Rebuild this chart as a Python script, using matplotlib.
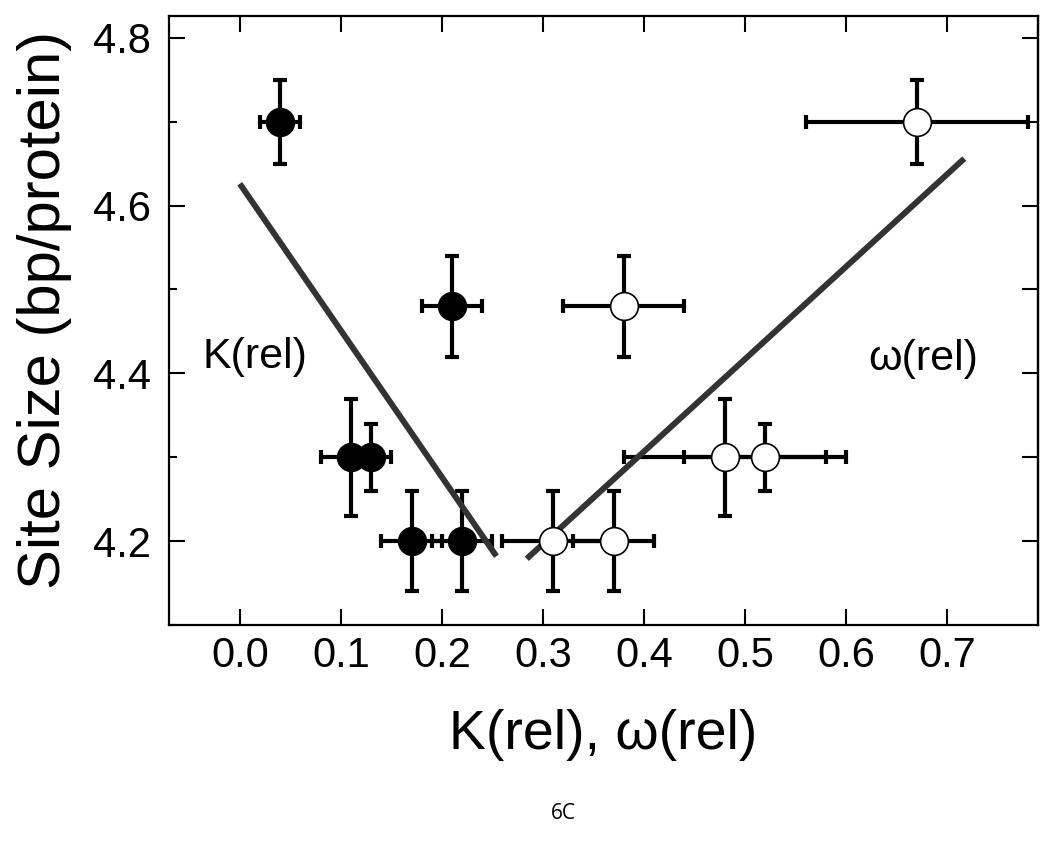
import numpy as np
import matplotlib.pyplot as plt
from matplotlib.ticker import MultipleLocator

# K(rel) points (filled)
k_x = [0.04, 0.21, 0.11, 0.13, 0.17, 0.22]
k_y = [4.70, 4.48, 4.30, 4.30, 4.20, 4.20]
k_xerr = [0.02, 0.03, 0.03, 0.02, 0.03, 0.03]
k_yerr = [0.05, 0.06, 0.07, 0.04, 0.06, 0.06]

# omega(rel) points (open)
w_x = [0.31, 0.37, 0.38, 0.48, 0.52, 0.67]
w_y = [4.20, 4.20, 4.48, 4.30, 4.30, 4.70]
w_xerr = [0.05, 0.04, 0.06, 0.10, 0.08, 0.11]
w_yerr = [0.06, 0.06, 0.06, 0.07, 0.04, 0.05]

# linear fits
k_fit_x = [0.0, 0.254]
k_fit_y = [4.626, 4.182]
w_fit_x = [0.284, 0.717]
w_fit_y = [4.179, 4.656]

plt.rcParams['font.family'] = ['Liberation Sans', 'DejaVu Sans']

fig = plt.figure(figsize=(10.5, 8.49), dpi=100)
ax = fig.add_axes([0.161, 0.2638, 0.8276, 0.7174])

eb = dict(fmt='none', ecolor='black', elinewidth=3.0, capsize=5, capthick=3.0, zorder=2)
ax.errorbar(k_x, k_y, xerr=k_xerr, yerr=k_yerr, **eb)
ax.errorbar(w_x, w_y, xerr=w_xerr, yerr=w_yerr, **eb)

ax.plot(k_fit_x, k_fit_y, color='#333333', lw=4.3, solid_capstyle='butt', zorder=3)
ax.plot(w_fit_x, w_fit_y, color='#333333', lw=4.3, solid_capstyle='butt', zorder=3)

ax.plot(k_x, k_y, 'o', ms=20, mfc='black', mec='black', mew=1.2, ls='none', zorder=4)
ax.plot(w_x, w_y, 'o', ms=20, mfc='white', mec='black', mew=1.2, ls='none', zorder=4)

ax.text(-0.037, 4.42, 'K(rel)', fontsize=31, va='center', ha='left')
ax.text(0.622, 4.417, 'ω(rel)', fontsize=31, va='center', ha='left')

ax.set_xlim(-0.07, 0.79)
ax.set_ylim(4.1, 4.826)
ax.yaxis.set_minor_locator(MultipleLocator(0.1))
ax.set_xticks(np.arange(0.0, 0.71, 0.1))
ax.set_yticks([4.2, 4.4, 4.6, 4.8])

ax.tick_params(which='major', direction='in', length=11.5, width=1.5, labelsize=30,
               top=True, right=False, pad=8)
ax.tick_params(axis='y', which='major', pad=13)
ax.tick_params(which='minor', direction='in', length=6, width=1.5, right=False)
for s in ax.spines.values():
    s.set_linewidth(1.6)

sec = ax.secondary_yaxis('right')
sec.set_yticks(np.arange(4.2, 4.81, 0.1))
sec.tick_params(direction='in', length=11.5, width=1.5, labelright=False)
sec.spines['right'].set_linewidth(1.6)

ax.set_xlabel('K(rel), ω(rel)', fontsize=40, labelpad=24)
ax.set_ylabel('Site Size (bp/protein)', fontsize=43)
ax.yaxis.set_label_coords(-0.112, 0.517)

fig.text(0.537, 0.042, '6C', fontsize=15, family=['Open Sans', 'DejaVu Sans'], ha='center', va='center')

fig.savefig('out.png', dpi=100)
